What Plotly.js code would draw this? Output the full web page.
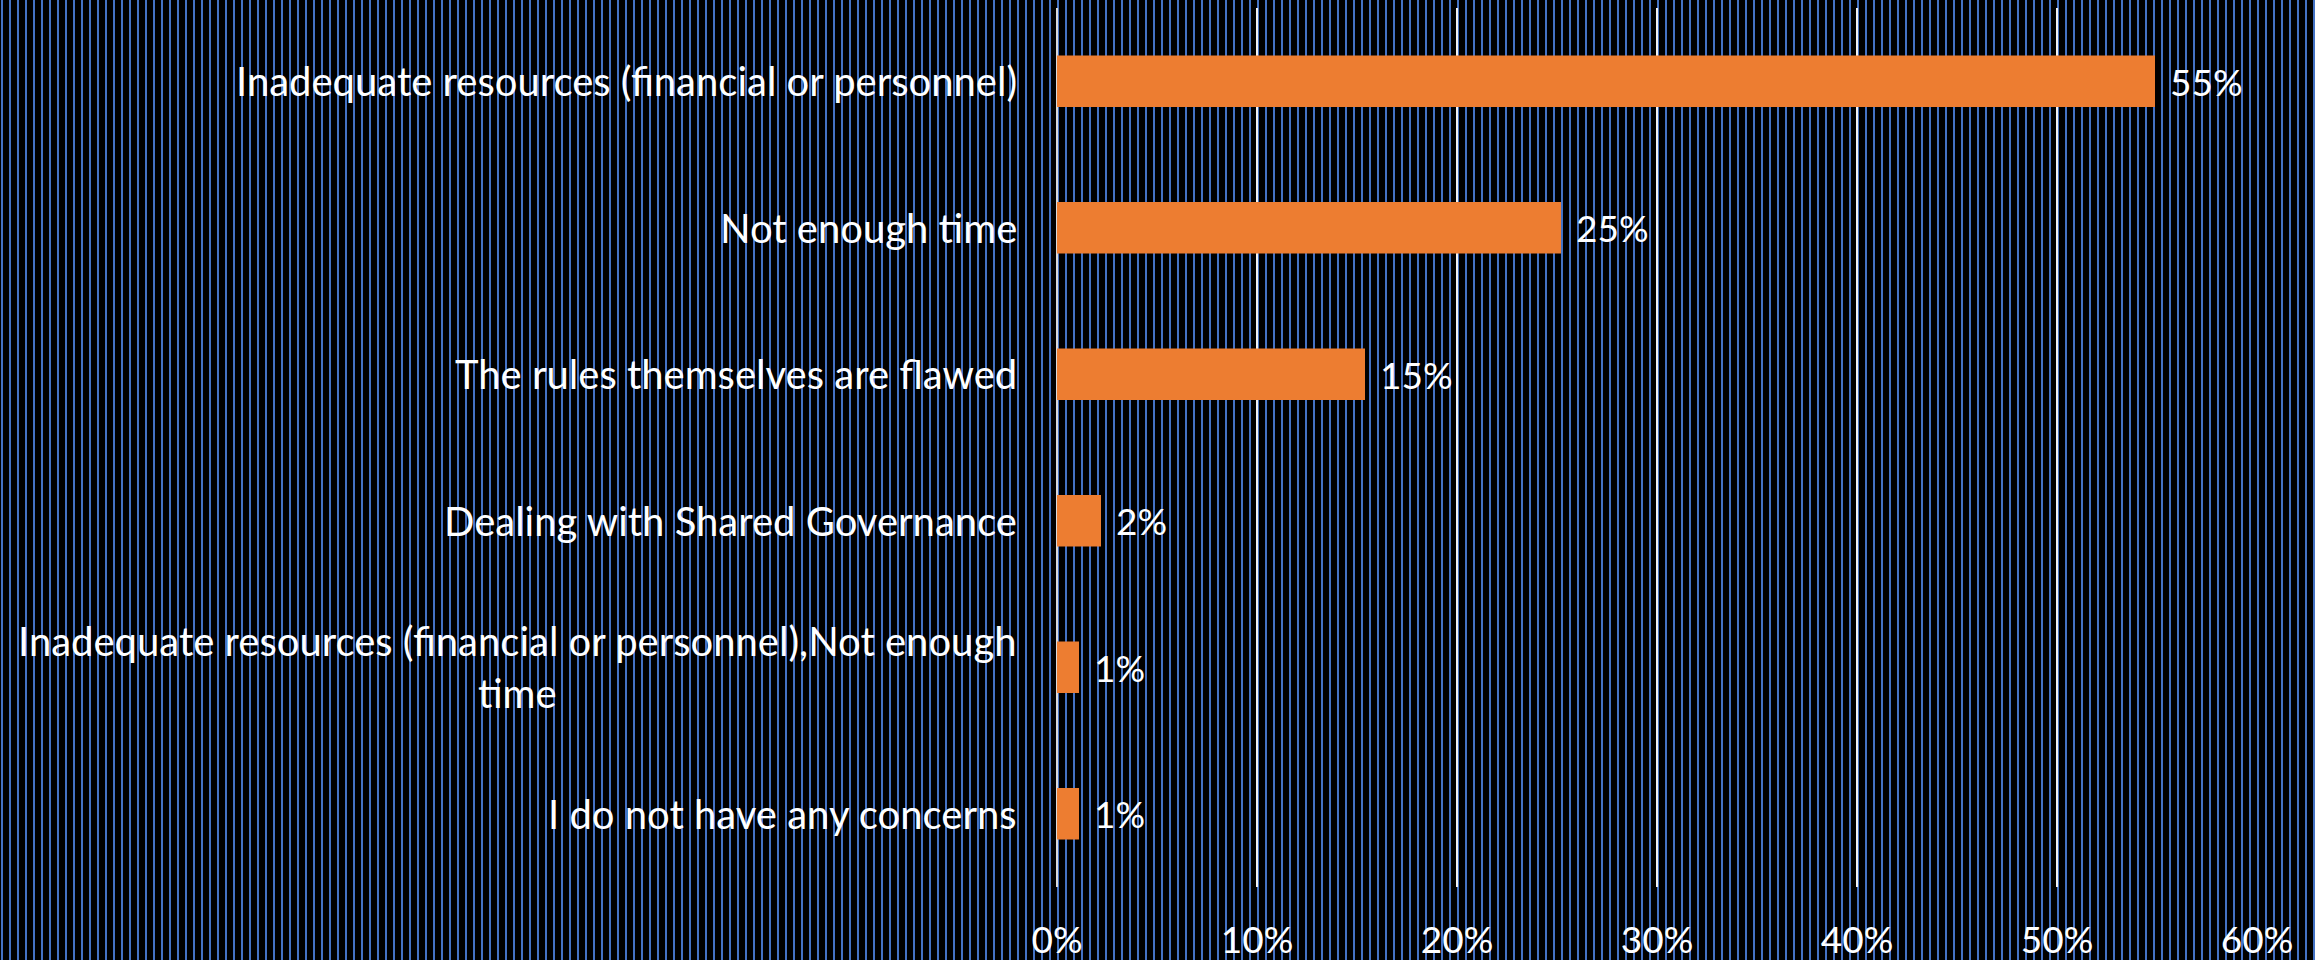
<!DOCTYPE html>
<html>
<head>
<meta charset="utf-8">
<script src="https://cdn.plot.ly/plotly-3.0.1.min.js"></script>
<style>
  html, body { margin: 0; padding: 0; width: 2315px; height: 960px; overflow: hidden; }
  body {
    background-color: #000;
    background-image: repeating-linear-gradient(to right, #000 0px, #000 1px, #4472C4 1px, #4472C4 3px, #000 3px, #000 8px);
  }
  #chart { width: 2315px; height: 960px; }
</style>
</head>
<body>
<div id="chart"></div>
<script>
// ---- data ----
const categories = [
  "Inadequate resources (financial or personnel)",
  "Not enough time",
  "The rules themselves are flawed",
  "Dealing with Shared Governance",
  "Inadequate resources (financial or personnel),Not enough time",
  "I do not have any concerns"
];
const categoryLabels = [
  "Inadequate resources (financial or personnel)",
  "Not enough time",
  "The rules themselves are flawed",
  "Dealing with Shared Governance",
  "Inadequate resources (financial or personnel),Not enough<br>time",
  "I do not have any concerns"
];
const shares = [0.549, 0.252, 0.154, 0.022, 0.011, 0.011];
const tickValues = [0, 0.1, 0.2, 0.3, 0.4, 0.5, 0.6];
const tickLabels = ["0%", "10%", "20%", "30%", "40%", "50%", "60%"];

// ---- style ----
const FONT = "Lato, 'Open Sans', sans-serif";
const FS = 37;
const FS_CAT = 40;

const trace = {
  type: "bar",
  orientation: "h",
  x: shares,
  y: categories,
  marker: { color: "#ED7D31", line: { width: 0 } },
  hoverinfo: "none"
};

const annotations = [];
categories.forEach((c, i) => {
  annotations.push({
    xref: "paper", x: 0, xanchor: "right", xshift: -38,
    yref: "y", y: c, yanchor: "middle",
    text: categoryLabels[i], align: "center", showarrow: false,
    font: { family: FONT, size: FS_CAT, color: "#ffffff" }
  });
  annotations.push({
    xref: "x", x: shares[i], xanchor: "left", xshift: 13,
    yref: "y", y: c, yanchor: "middle",
    text: Math.round(shares[i] * 100) + "%", showarrow: false,
    font: { family: FONT, size: FS, color: "#ffffff" }
  });
});

const layout = {
  width: 2315, height: 960,
  paper_bgcolor: "rgba(0,0,0,0)",
  plot_bgcolor: "rgba(0,0,0,0)",
  margin: { l: 1057, r: 58, t: 8, b: 73, pad: 0 },
  bargap: 0.647,
  showlegend: false,
  font: { family: FONT, size: FS, color: "#ffffff" },
  xaxis: {
    range: [0, 0.6],
    tickvals: tickValues,
    ticktext: tickLabels,
    showgrid: true, gridcolor: "#f2f2f2", gridwidth: 1.5,
    zeroline: true, zerolinecolor: "#d9d9d9", zerolinewidth: 1.5,
    showline: false, ticks: "",
    ticklabelstandoff: 28,
    tickfont: { family: FONT, size: FS, color: "#ffffff" },
    fixedrange: true
  },
  yaxis: {
    type: "category",
    categoryorder: "array",
    categoryarray: categories,
    autorange: "reversed",
    showticklabels: false,
    showgrid: false, zeroline: false, showline: false, ticks: "",
    fixedrange: true
  },
  annotations: annotations
};

Plotly.newPlot("chart", [trace], layout, { staticPlot: true, displayModeBar: false });
</script>
</body>
</html>
